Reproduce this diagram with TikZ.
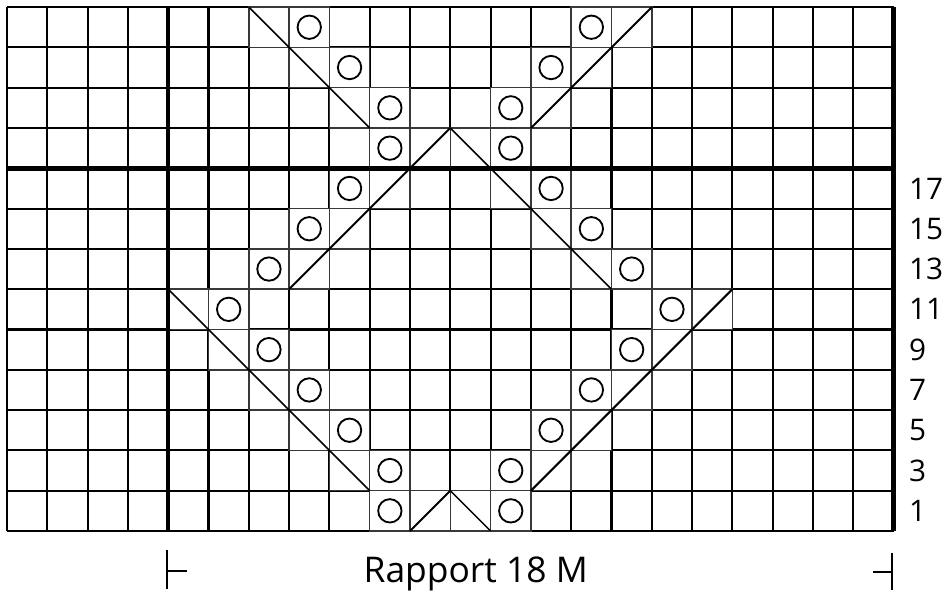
\documentclass[tikz,border=0pt]{standalone}
\usepackage{fontspec}
\setmainfont{Open Sans}
\begin{document}
\begin{tikzpicture}[x=1cm,y=1cm,
  gridline/.style={line width=1.5pt,black},
  heavyline/.style={line width=3.2pt,black},
  symcell/.style={draw=black!78,line width=1.1pt,fill=white},
  decline/.style={line width=1.1pt,black},
  incline/.style={line width=1.4pt,black},
  yarnover/.style={circle,draw,line width=1.3pt,minimum size=0.58cm,inner sep=0pt},
  rowlabel/.style={anchor=west,inner sep=0pt,font=\fontsize{21}{25}\selectfont},
  rapbar/.style={line width=1.4pt,black}]
\useasboundingbox (-0.174,-1.514) rectangle (23.30,13.176);
% chart grid
\draw[gridline] (0,0) grid (22,13);
\foreach \c/\r in {9/0,12/0,9/1,12/1,8/2,13/2,7/3,14/3,6/4,15/4,5/5,16/5,6/6,15/6,
  7/7,14/7,8/8,13/8,9/9,12/9,9/10,12/10,8/11,13/11,7/12,14/12,
  4/5,5/4,6/3,7/2,8/1,10/0,11/0,13/1,14/2,15/3,16/4,17/5,7/6,8/7,9/8,10/9,
  11/9,12/8,13/7,14/6,6/12,7/11,8/10,13/10,14/11,15/12}
  \draw[symcell] (\c,\r) rectangle ++(1,1);
\draw[heavyline] (4,0) -- (4,13);
\draw[heavyline] (0,9) -- (22,9);
\draw[heavyline] (22,0) -- (22,13);
% decreases
\draw[decline] (4,6) -- (9,1);
\draw[decline] (11,10) -- (15,6);
\draw[decline] (6,13) -- (9,10);
\draw[decline] (11,1) -- (12,0);
\draw[incline] (10,0) -- (11,1);
\draw[incline] (13,1) -- (18,6);
\draw[incline] (7,6) -- (11,10);
\draw[incline] (13,10) -- (16,13);
% yarn overs
\foreach \c/\r in {9/0,12/0,9/1,12/1,8/2,13/2,7/3,14/3,6/4,15/4,5/5,16/5,6/6,15/6,
  7/7,14/7,8/8,13/8,9/9,12/9,9/10,12/10,8/11,13/11,7/12,14/12}
  \node[yarnover] (yo-\c-\r) at (\c+0.5,\r+0.5) {};
% row numbers
\foreach \r [evaluate=\r as \n using int(2*\r+1)] in {0,...,8}
  \node[rowlabel] (row\n) at (22.38,\r+0.5) {\n};
% repeat
\coordinate (rapL) at (3.97,-0.47);
\coordinate (rapR) at (21.96,-0.54);
\draw[rapbar] (rapL) -- ++(0,-0.97);
\draw[rapbar] ([yshift=-0.52cm]rapL) -- ++(0.5,0);
\draw[rapbar] (rapR) -- ++(0,-0.92);
\draw[rapbar] ([yshift=-0.47cm]rapR) -- ++(-0.47,0);
\node[anchor=base,inner sep=0pt,font=\fontsize{25}{30}\selectfont] (rapport) at (11.63,-1.29) {Rapport 18 M};
\end{tikzpicture}
\end{document}
